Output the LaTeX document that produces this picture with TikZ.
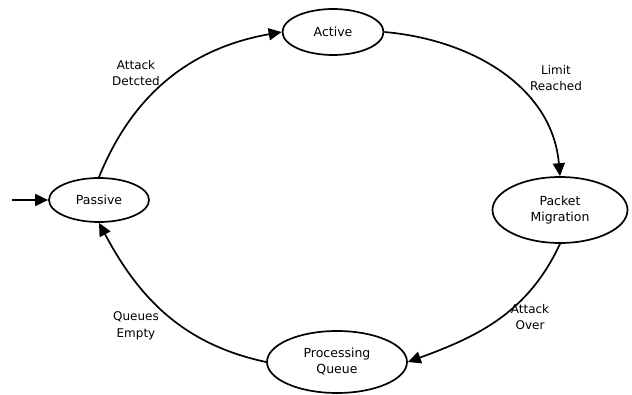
\documentclass[tikz,border=0pt]{standalone}
\usepackage{fontspec}
\setmainfont{DejaVu Sans}
\usetikzlibrary{shapes.geometric,arrows.meta}
\begin{document}
\begin{tikzpicture}[x=1pt,y=1pt,
  state/.style={ellipse,draw,line width=1.7pt,align=center,font=\fontsize{12.5}{16}\selectfont,inner sep=0pt},
  lbl/.style={align=center,font=\fontsize{12}{16.5}\selectfont},
  conn/.style={line width=1.7pt,-{Triangle[length=13pt,width=12pt]}}]
\fill[white] (0,0) rectangle (632,394);
\useasboundingbox (0,0) rectangle (632,394);
\node[state,minimum width=100pt,minimum height=44pt] (passive) at (99,194) {Passive};
\node[state,minimum width=101pt,minimum height=46pt] (active) at (333,362) {Active};
\node[state,minimum width=135pt,minimum height=66pt] (packet) at (560,184) {Packet\\Migration};
\node[state,minimum width=140pt,minimum height=62pt] (proc) at (337,32) {Processing\\Queue};
\coordinate (start) at (12,194);
\draw[conn] (start) -- (passive.west);
\draw[conn] (passive.north) to[out=68,in=190] (active.west);
\draw[conn] (active.east) to[out=-5,in=95] (packet.north);
\draw[conn] (packet.south) to[out=-115,in=20] (proc.east);
\draw[conn] (proc.west) to[out=168,in=-62] (passive.south);
\node[lbl] (l1) at (136,321) {Attack\\Detcted};
\node[lbl] (l2) at (556,316) {Limit\\Reached};
\node[lbl] (l3) at (530,77) {Attack\\Over};
\node[lbl] (l4) at (136,68) {Queues\\Empty};
\end{tikzpicture}
\end{document}
